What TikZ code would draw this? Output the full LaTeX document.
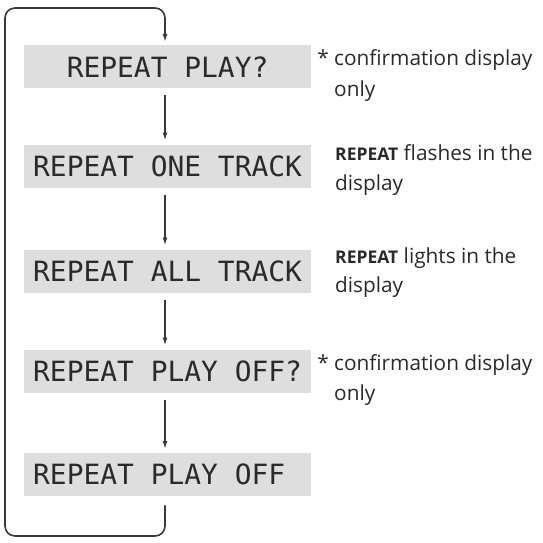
\documentclass[tikz,border=0pt]{standalone}
\usepackage{fontspec}
\setmainfont{Open Sans}
\newfontfamily\lcdfont{DejaVu Sans Mono}
\usetikzlibrary{arrows.meta}
\definecolor{boxgray}{HTML}{DEDEDE}
\definecolor{inkgray}{HTML}{2A2A2A}
\definecolor{linegray}{HTML}{3A3A3A}
\begin{document}
\begin{tikzpicture}[x=1pt,y=-1pt,
  dispbox/.style={rectangle, fill=boxgray, draw=none, minimum width=287pt, minimum height=43pt,
    inner xsep=9pt, inner ysep=0pt, anchor=north west,
    font=\lcdfont\fontsize{27.9}{30}\selectfont, text=inkgray},
  ann/.style={anchor=base west, inner sep=0pt, font=\fontsize{20.8}{30}\selectfont, text=inkgray},
  arr/.style={-{Latex[length=8pt,width=5pt]}, line width=1.5pt, draw=linegray, shorten <=7pt, shorten >=4pt},
  looparr/.style={-{Latex[length=8pt,width=5pt]}, line width=1.6pt, draw=linegray, rounded corners=10pt, shorten <=9pt, shorten >=3pt}
]
\useasboundingbox (0,0) rectangle (543,543);
\newcommand{\rpt}{{\fontsize{17.5}{17.5}\selectfont\bfseries REPEAT}}
\newcommand{\lcdline}[1]{\makebox[269pt][l]{#1}}

\node[dispbox] (b1) at (24,45) {\lcdline{\phantom{XX}REPEAT PLAY?}};
\node[dispbox] (b2) at (24,144.5) {\lcdline{REPEAT ONE TRACK}};
\node[dispbox] (b3) at (24,249.5) {\lcdline{REPEAT ALL TRACK}};
\node[dispbox] (b4) at (24,349.5) {\lcdline{REPEAT PLAY OFF?}};
\node[dispbox] (b5) at (24,453) {\lcdline{REPEAT PLAY OFF}};

\coordinate (ax) at (165,0);
\coordinate (tl) at (5,8);
\coordinate (bl) at (5,536);

\draw[arr] (b1.south -| ax) -- (b2.north -| ax);
\draw[arr] (b2.south -| ax) -- (b3.north -| ax);
\draw[arr] (b3.south -| ax) -- (b4.north -| ax);
\draw[arr] (b4.south -| ax) -- (b5.north -| ax);
\draw[looparr] (b5.south -| ax) -- (bl -| ax) -- (bl) -- (tl) -- (tl -| ax) -- (b1.north -| ax);

\node[ann] (a1a) at (334,66) {\llap{*\ }confirmation display};
\node[ann] (a1b) at (334,96) {only};
\node[ann] (a2a) at (335,160) {\rpt{} flashes in the};
\node[ann] (a2b) at (335,190) {display};
\node[ann] (a3a) at (335,263) {\rpt{} lights in the};
\node[ann] (a3b) at (335,292) {display};
\node[ann] (a4a) at (334,370) {\llap{*\ }confirmation display};
\node[ann] (a4b) at (334,400) {only};
\end{tikzpicture}
\end{document}
